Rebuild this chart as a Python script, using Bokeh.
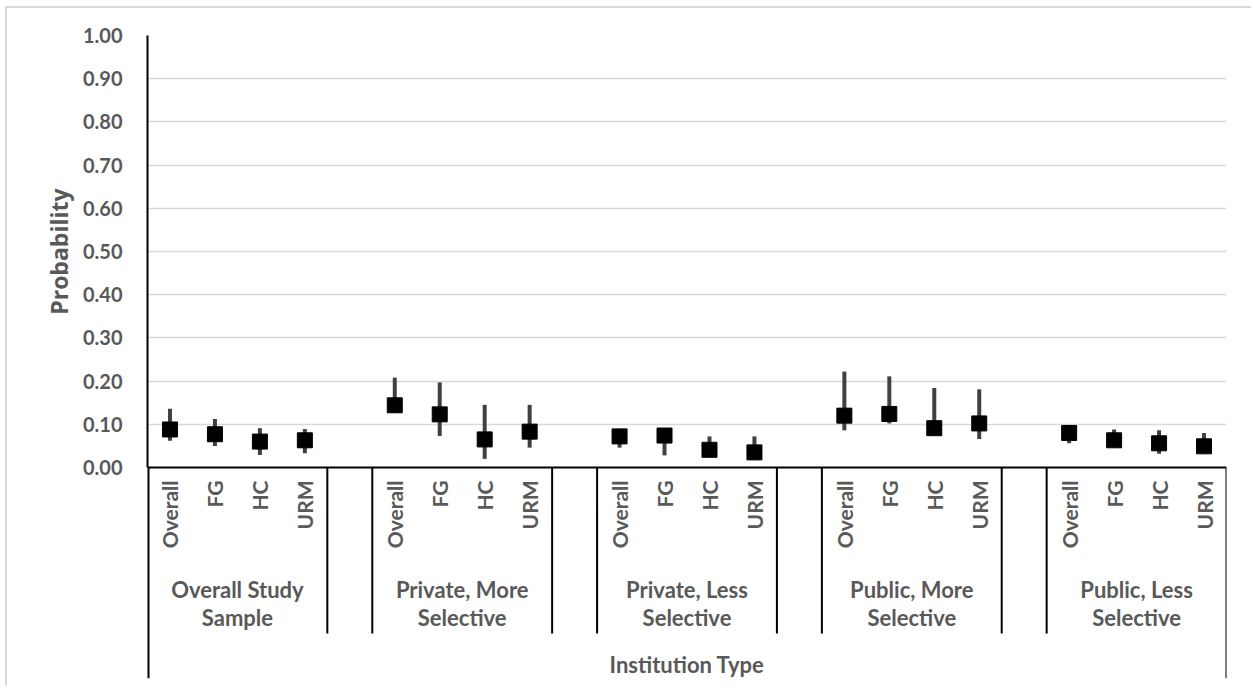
from bokeh.plotting import figure
from bokeh.models import Range1d, FixedTicker, NumeralTickFormatter, ColumnDataSource, Title
from bokeh.core.properties import value
from bokeh.embed import file_html
from bokeh.resources import INLINE

groups = ["Overall Study\nSample", "Private, More\nSelective", "Private, Less\nSelective",
          "Public, More\nSelective", "Public, Less\nSelective"]
subgroups = ["Overall", "FG", "HC", "URM"]
estimate = [0.088, 0.077, 0.060, 0.063,
            0.144, 0.123, 0.065, 0.083,
            0.072, 0.074, 0.041, 0.035,
            0.120, 0.124, 0.091, 0.102,
            0.080, 0.063, 0.056, 0.049]
lower = [0.062, 0.050, 0.029, 0.033,
         0.132, 0.073, 0.020, 0.046,
         0.046, 0.028, 0.030, 0.025,
         0.086, 0.102, 0.080, 0.066,
         0.056, 0.055, 0.032, 0.040]
upper = [0.136, 0.112, 0.091, 0.089,
         0.208, 0.197, 0.145, 0.145,
         0.085, 0.085, 0.072, 0.072,
         0.222, 0.211, 0.184, 0.181,
         0.095, 0.088, 0.086, 0.080]
y_ticks = [0.0, 0.1, 0.2, 0.3, 0.4, 0.5, 0.6, 0.7, 0.8, 0.9, 1.0]
x_title = "Institution Type"
y_title = "Probability"

FONT = "Lato"
GRAY = "#595959"

# positions: each group has 4 slots plus one blank spacer slot
xs = []
for g in range(len(groups)):
    for j in range(len(subgroups)):
        xs.append(g * 5 + j + 0.5)
n_slots = len(groups) * 5 - 1

px_per_unit = 432.0
y_bottom = -(678 - 467) / px_per_unit

p = figure(width=1246, height=680, output_backend="svg", toolbar_location=None,
           x_range=Range1d(0, n_slots), y_range=Range1d(y_bottom, 1.0),
           min_border_left=140, min_border_right=27, min_border_top=27, min_border_bottom=10)
p.margin = (6, 0, 0, 5)
p.styles = {"border-left": "2px solid #d9d9d9", "border-top": "2px solid #d9d9d9"}
p.outline_line_color = None
p.background_fill_color = "white"
p.border_fill_color = "white"

p.xaxis.visible = False
p.xgrid.visible = False

ya = p.yaxis[0]
ya.ticker = FixedTicker(ticks=y_ticks)
ya.bounds = (0, 1)
ya.formatter = NumeralTickFormatter(format="0.00")
ya.major_label_text_font = FONT
ya.major_label_text_font_style = "bold"
ya.major_label_text_font_size = "20px"
ya.major_label_text_color = GRAY
ya.major_tick_line_color = None
ya.major_tick_out = 0
ya.major_tick_in = 0
ya.minor_tick_line_color = None
ya.major_label_standoff = 25
ya.axis_line_color = "black"
ya.axis_line_width = 2

# y-axis title, placed so it is centred on the 0-1 span
p.add_layout(Title(text=y_title, align="right", offset=153, standoff=10,
                   text_font="Open Sans", text_font_style="bold",
                   text_font_size="23px", text_color=GRAY), "left")

p.ygrid.ticker = FixedTicker(ticks=y_ticks[1:])
p.ygrid.grid_line_color = "#d9d9d9"
p.ygrid.grid_line_width = 1.5

# category axis line at 0 and left boundary below it
p.segment(x0=[0], y0=[0], x1=[n_slots], y1=[0], line_color="black", line_width=2)
p.segment(x0=[0], y0=[0], x1=[0], y1=[y_bottom], line_color="black", line_width=4)

# separators between groups and blanks
sep_x = []
for g in range(len(groups) - 1):
    sep_x += [g * 5 + 4, g * 5 + 5]
y_sep = -(633 - 467) / px_per_unit
p.segment(x0=sep_x, y0=[0] * len(sep_x), x1=sep_x, y1=[y_sep] * len(sep_x),
          line_color="black", line_width=2)
p.segment(x0=[n_slots], y0=[0], x1=[n_slots], y1=[y_bottom], line_color="black", line_width=2)

src = ColumnDataSource(dict(x=xs, y=estimate, lo=lower, hi=upper,
                            lab=subgroups * len(groups)))
p.segment(x0="x", y0="lo", x1="x", y1="hi", source=src, line_color="#404040", line_width=4)
p.scatter(x="x", y="y", source=src, marker="square", size=15, fill_color="black", line_color="black")

# sub-category labels (rotated)
y_lab = -(480 - 467) / px_per_unit
p.text(x="x", y=y_lab, text="lab", source=src, angle=1.5708, text_align="right",
       text_baseline="middle", text_font=value(FONT), text_font_style="bold",
       text_font_size="21px", text_color=GRAY)

# group labels
gx = [g * 5 + 2 for g in range(len(groups))]
y_grp = -(603 - 467) / px_per_unit
p.text(x=gx, y=[y_grp] * len(gx), text=groups, text_align="center", text_baseline="middle",
       text_font=value(FONT), text_font_style="bold", text_font_size="22px", text_color=GRAY,
       text_line_height=1.05)

y_tt = -(664 - 467) / px_per_unit
p.text(x=[n_slots / 2], y=[y_tt], text=[x_title], text_align="center", text_baseline="middle",
       text_font=value(FONT), text_font_style="bold", text_font_size="22px", text_color=GRAY)

open("out.html", "w").write(file_html(p, INLINE))
